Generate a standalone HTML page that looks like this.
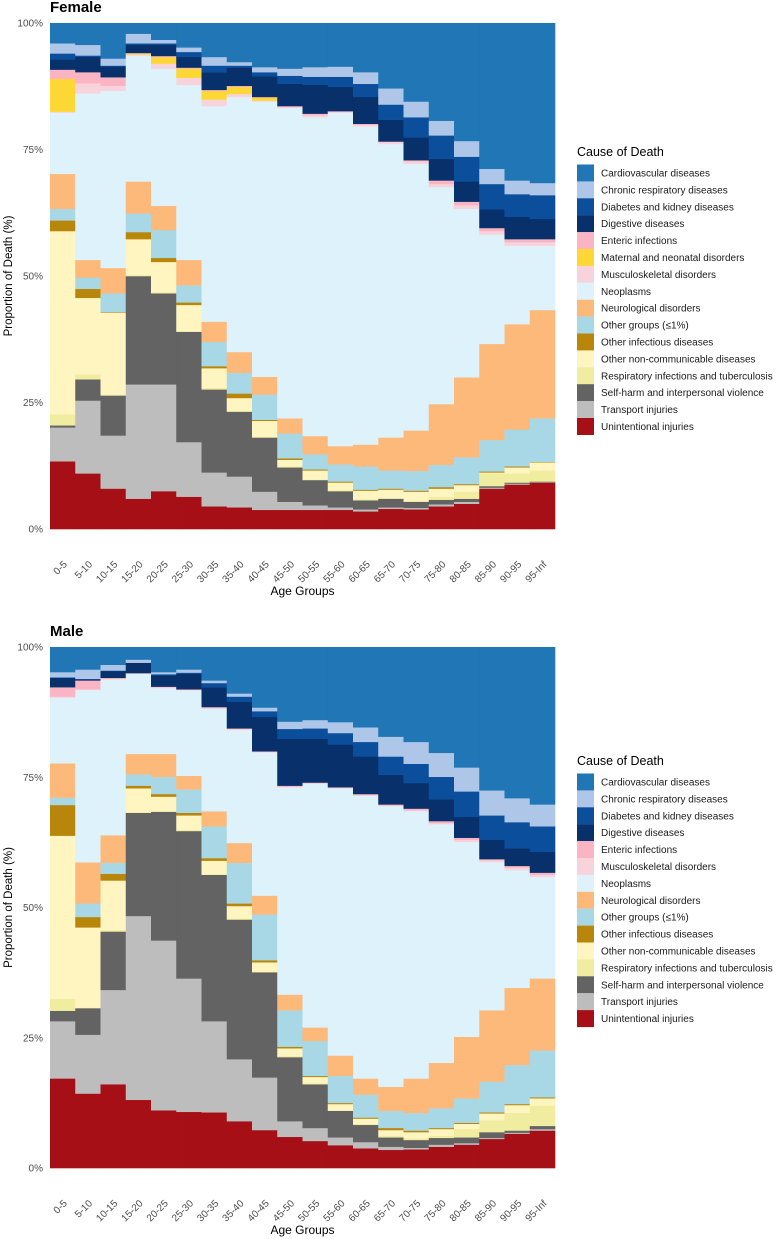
<!DOCTYPE html>
<html><head><meta charset="utf-8">
<style>
body{margin:0;background:#fff;}
svg{display:block;font-family:"Liberation Sans",Arial,sans-serif;}
</style></head>
<body>
<svg id="chart" width="779" height="1239" viewBox="0 0 779 1239"></svg>
<script>
const ageGroups = ["0-5","5-10","10-15","15-20","20-25","25-30","30-35","35-40","40-45","45-50","50-55","55-60","60-65","65-70","70-75","75-80","80-85","85-90","90-95","95-Inf"];
const tickLabels = ["0%","25%","50%","75%","100%"];
const tickValues = [0,25,50,75,100];

// Female series (% of deaths), stacked bottom→top
const fUnint = [13.4,11.0,8.0,6.0,7.5,6.4,4.5,4.3,3.8,3.8,3.8,3.8,3.5,4.0,3.9,4.5,5.0,8.0,8.8,9.2];
const fTransport = [6.7,14.4,10.5,22.6,21.1,10.8,6.7,6.1,3.6,1.6,0.9,0.5,0.4,0.3,0.3,0.4,0.4,0.2,0.2,0.1];
const fSelfHarm = [0.4,4.2,7.9,21.4,18.0,21.8,16.4,12.8,10.7,6.8,5.0,3.2,1.8,1.7,1.2,0.9,0.6,0.3,0.2,0.1];
const fRespInf = [2.2,1.0,0.2,0.2,0.2,0.1,0.3,0.2,0.1,0.2,0.1,0.2,0.2,0.2,0.2,0.6,1.4,2.5,1.8,2.2];
const fOtherNCD = [36.2,15.1,16.2,7.1,6.0,5.2,3.9,2.5,3.2,1.3,1.8,1.5,1.7,1.6,1.8,1.6,1.3,0.2,1.2,1.6];
const fOtherInf = [2.1,1.8,0.1,1.4,0.8,0.5,0.4,0.9,0.2,0.3,0.2,0.2,0.2,0.2,0.2,0.3,0.2,0.2,0.2,0.1];
const fOtherGroups = [2.3,2.2,3.7,3.7,5.5,3.4,4.8,4.1,5.0,4.9,3.0,3.4,4.6,3.6,3.9,4.4,5.3,6.2,7.3,8.6];
const fNeuro = [6.9,3.5,5.0,6.3,4.8,5.0,4.0,4.1,3.5,3.0,3.6,3.6,4.3,6.5,8.0,12.0,15.8,19.0,20.8,21.4];
const fNeoplasms = [12.1,32.9,35.0,24.9,27.1,34.6,42.6,50.4,54.4,61.4,63.0,65.9,62.9,58.0,52.7,42.9,33.3,21.6,15.5,12.7];
const fMusculo = [0.2,2.0,1.0,0.2,1.0,1.4,1.3,0.6,0.2,0.1,0.4,0.2,0.3,0.4,0.5,0.6,0.7,0.7,0.7,0.7];
const fMaternal = [6.5,0,0,0.2,1.3,1.8,1.7,1.4,0.6,0,0,0,0,0,0,0,0,0,0,0];
const fEnteric = [1.8,2.2,1.7,0.1,0.2,0.2,0.2,0.2,0.1,0.2,0.3,0.1,0.2,0.1,0.2,0.7,0.7,0.6,0.6,0.6];
const fDigestive = [2.0,3.0,2.1,1.6,2.2,2.1,3.5,3.6,4.1,4.4,5.7,4.8,5.3,4.3,4.5,4.3,4.0,3.7,4.4,4.0];
const fDiabetes = [1.2,0.3,0.2,0.3,0.3,1.0,1.3,0.4,0.8,1.6,1.6,2.0,2.6,3.0,4.0,4.6,4.9,5.0,4.5,4.7];
const fChronic = [2.0,2.1,1.4,1.9,0.7,0.9,1.7,0.7,1.0,1.4,1.9,2.0,2.3,3.2,3.1,2.9,3.1,3.0,2.7,2.4];
const fCardio = [4.0,4.3,7.0,2.1,3.3,4.8,6.7,7.7,8.7,9.0,8.7,8.6,9.7,12.9,15.5,19.3,23.3,28.8,31.1,31.6];

// Male series
const mUnint = [17.2,14.3,16.1,13.1,11.1,10.8,10.7,9.0,7.3,6.0,5.2,4.4,3.8,3.5,3.6,4.1,4.5,5.6,6.6,7.2];
const mTransport = [11.0,11.3,18.1,35.3,32.6,25.6,17.5,11.9,10.1,3.0,2.5,1.5,1.2,0.6,0.3,0.4,0.3,0.2,0.2,0.3];
const mSelfHarm = [2.0,5.1,11.2,19.8,24.7,28.3,28.1,26.8,20.2,12.3,8.4,5.1,3.3,1.8,1.5,1.3,1.1,1.1,0.4,0.6];
const mRespInf = [2.3,0.1,0.3,0.1,0.1,0.2,0.1,0.2,0.1,0.2,0.2,0.1,0.2,0.3,0.3,0.4,1.6,2.3,3.4,3.9];
const mOtherNCD = [31.3,15.4,9.5,4.6,2.8,2.8,2.6,2.4,1.8,1.5,1.2,1.2,1.0,1.1,1.2,1.3,1.0,1.3,1.5,1.4];
const mOtherInf = [5.9,2.0,1.3,0.5,0.5,0.5,0.5,0.5,0.4,0.3,0.2,0.2,0.2,0.4,0.3,0.2,0.2,0.2,0.2,0.2];
const mOtherGroups = [1.4,2.6,2.1,2.2,3.3,4.5,6.1,7.8,8.8,7.0,6.7,5.2,4.4,3.3,3.4,3.8,4.7,5.9,7.5,9.0];
const mNeuro = [6.6,7.9,5.3,3.9,4.4,2.6,2.9,3.8,3.6,3.0,2.6,3.9,3.1,4.6,6.6,8.7,11.8,13.7,14.8,13.8];
const mNeoplasms = [12.6,33.1,29.9,15.4,12.6,16.4,19.7,21.7,27.5,39.8,46.8,51.3,54.3,53.9,51.3,45.8,37.4,28.4,22.6,19.5];
const mMusculo = [0.2,0.1,0.1,0.1,0.2,0.1,0.1,0.2,0.1,0.1,0.1,0.1,0.1,0.1,0.2,0.2,0.4,0.4,0.5,0.4];
const mEnteric = [1.8,1.7,0.2,0,0.1,0.1,0.2,0.1,0.1,0.2,0.1,0.1,0.2,0.2,0.3,0.4,0.4,0.2,0.3,0.4];
const mDigestive = [1.8,0.2,1.3,2.0,2.2,3.0,3.8,5.1,6.6,9.0,8.4,8.2,7.2,5.7,4.9,4.2,4.0,3.7,3.4,4.0];
const mDiabetes = [0.1,0.1,0.1,0,0.2,0.2,0.8,1.0,1.1,1.9,2.0,2.2,2.8,3.5,3.7,4.3,4.9,4.7,5.0,4.9];
const mChronic = [1.0,1.8,1.1,0.6,0.4,0.6,0.5,0.6,0.7,1.4,1.6,2.1,2.8,3.8,4.2,4.6,4.6,4.8,4.6,4.2];
const mCardio = [4.8,4.3,3.4,2.4,4.8,4.3,6.4,8.9,11.6,14.3,14.0,14.4,15.4,17.2,18.2,20.3,23.1,27.5,29.0,30.2];

const COL = {
  "Cardiovascular diseases":"#2176b5","Chronic respiratory diseases":"#aec7e8","Diabetes and kidney diseases":"#0b4f9c",
  "Digestive diseases":"#08306b","Enteric infections":"#fbb4c3","Maternal and neonatal disorders":"#fdd835",
  "Musculoskeletal disorders":"#f7d4dc","Neoplasms":"#def2fb","Neurological disorders":"#fdb97a",
  "Other groups (\u22641%)":"#a8d8e6","Other infectious diseases":"#b8860b","Other non-communicable diseases":"#fff5c0",
  "Respiratory infections and tuberculosis":"#f0eca0","Self-harm and interpersonal violence":"#636363",
  "Transport injuries":"#bdbdbd","Unintentional injuries":"#a50f15"
};

const femaleSeries = [
 ["Unintentional injuries",fUnint],["Transport injuries",fTransport],["Self-harm and interpersonal violence",fSelfHarm],
 ["Respiratory infections and tuberculosis",fRespInf],["Other non-communicable diseases",fOtherNCD],["Other infectious diseases",fOtherInf],
 ["Other groups (\u22641%)",fOtherGroups],["Neurological disorders",fNeuro],["Neoplasms",fNeoplasms],["Musculoskeletal disorders",fMusculo],
 ["Maternal and neonatal disorders",fMaternal],["Enteric infections",fEnteric],["Digestive diseases",fDigestive],
 ["Diabetes and kidney diseases",fDiabetes],["Chronic respiratory diseases",fChronic],["Cardiovascular diseases",fCardio]];
const maleSeries = [
 ["Unintentional injuries",mUnint],["Transport injuries",mTransport],["Self-harm and interpersonal violence",mSelfHarm],
 ["Respiratory infections and tuberculosis",mRespInf],["Other non-communicable diseases",mOtherNCD],["Other infectious diseases",mOtherInf],
 ["Other groups (\u22641%)",mOtherGroups],["Neurological disorders",mNeuro],["Neoplasms",mNeoplasms],["Musculoskeletal disorders",mMusculo],
 ["Enteric infections",mEnteric],["Digestive diseases",mDigestive],
 ["Diabetes and kidney diseases",mDiabetes],["Chronic respiratory diseases",mChronic],["Cardiovascular diseases",mCardio]];

const NS="http://www.w3.org/2000/svg";
const svg=document.getElementById('chart');
function mk(tag,attrs,parent,text){const e=document.createElementNS(NS,tag);for(const k in attrs)e.setAttribute(k,attrs[k]);if(text!==undefined)e.textContent=text;(parent||svg).appendChild(e);return e;}
function slug(s){return s.toLowerCase().replace(/[^a-z0-9]+/g,'-').replace(/^-|-$/g,'');}

function panel(title,series,top,bottom,legendTop,key){
  const x0=50,x1=555;
  const g=mk('g',{});
  
  
  const bw=(x1-x0)/ageGroups.length;
  const xScale=i=>x0+i*bw;
  const yScale=v=>bottom-(v/100)*(bottom-top);
  const t=mk('text',{x:50,y:top-11,'font-size':15,'font-weight':'bold',fill:'#000'},g,title);
  
  
  const barsG=mk('g',{},g);
  
  
  ageGroups.forEach((ag,i)=>{
    let cum=0;
    const tot=series.reduce((a,s)=>a+s[1][i],0);
    series.forEach(([name,vals])=>{
      const v=vals[i]*100/tot; if(v<=0){return;}
      const yT=yScale(cum+v), yB=yScale(cum);
      const r=mk('rect',{x:xScale(i).toFixed(2),y:yT.toFixed(2),width:(bw+0.3).toFixed(2),height:(yB-yT+0.3).toFixed(2),fill:COL[name]},barsG);
      
      
      cum+=v;
    });
  });
  tickValues.forEach((tv,k)=>{
    const tt=mk('text',{x:43,y:yScale(tv)+3.5,'font-size':10,fill:'#4d4d4d','text-anchor':'end'},g,tickLabels[k]);
    
    
  });
  const ym=(top+bottom)/2;
  const yt=mk('text',{x:0,y:0,'font-size':11.5,fill:'#000','text-anchor':'middle',transform:`translate(12,${ym}) rotate(-90)`},g,'Proportion of Death (%)');
  
  
  ageGroups.forEach((ag,i)=>{
    const cx=xScale(i)+bw/2+5;
    const xt=mk('text',{x:0,y:0,'font-size':10,fill:'#4d4d4d','text-anchor':'end',transform:`translate(${cx},${bottom+36}) rotate(-45)`},g,ag);
    
    
  });
  const xa=mk('text',{x:(x0+x1)/2,y:bottom+66,'font-size':12,fill:'#000','text-anchor':'middle'},g,'Age Groups');
  
  
  const lg=mk('g',{},g);
  
  
  const lt=mk('text',{x:577,y:legendTop+4,'font-size':12.5,fill:'#000'},lg,'Cause of Death');
  
  
  const names=series.map(s=>s[0]).sort((a,b)=>a.localeCompare(b));
  names.forEach((n,k)=>{
    const cy=legendTop+21+k*16.9;
    const e=mk('g',{},lg);
    
    
    mk('rect',{x:577,y:cy-8.5,width:17,height:17,fill:COL[n]},e);
    mk('text',{x:601,y:cy+3.5,'font-size':10,fill:'#1a1a1a'},e,n);
  });
}
panel('Female',femaleSeries,23,529,152,'female');
panel('Male',maleSeries,647,1168,761,'male');
</script>
</body></html>
